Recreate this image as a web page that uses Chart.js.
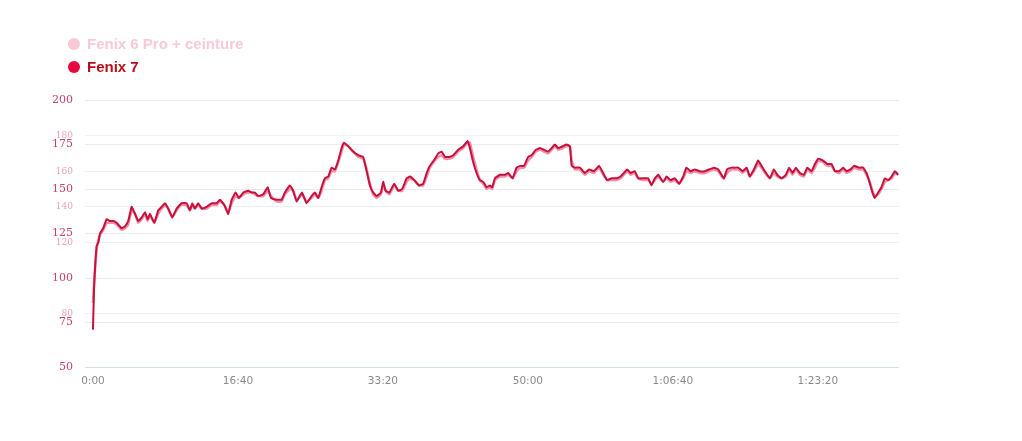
<!DOCTYPE html>
<html>
<head>
<meta charset="utf-8">
<script src="https://cdn.jsdelivr.net/npm/chart.js@4.4.1/dist/chart.umd.min.js"></script>
<style>
  body { margin: 0; background: #fff; }
  #wrap { position: relative; width: 1022px; height: 441px; }
  #legend { position: absolute; left: 68px; top: 32px; font-family: "Liberation Sans", Arial, sans-serif; font-weight: bold; font-size: 15px; }
  .item { display: flex; align-items: center; height: 23px; }
  .dot { width: 12px; height: 12px; border-radius: 50%; margin-right: 7px; }
</style>
</head>
<body>
<div id="wrap">
  <canvas id="chartHeartRate" width="1022" height="441"></canvas>
  <div id="legend"></div>
</div>
<script>
// elapsed time in seconds
let times = [0,8,25,37,48,71,94,117,140,163,
  198,221,243,267,290,312,336,359,377,393,
  423,450,474,497,519,547,577,612,646,669,
  685,703,726,750,784,819,853,876,906,933,
  957,984,1007,1037,1071,1095,1117,1140,1175,1205,
  1228,1267,1301,1324,1359,1381,1405,1442,1473,1508,
  1531,1554,1577,1600,1623,1646,1669,1692,1715,1731,
  1761,1795,1830,1864,1888,1910,1933,1957,1986,2002,
  2019,2044,2078,2106,2133,2164,2186,2216,2248,2278,
  2302,2324,2359,2382,2405,2428,2455,2485,2519,2554,
  2584,2600,2623,2646,2669,2692,2715,2738,2754,2773,
  2807,2842,2864,2895,2922,2950,2973,3002,3026,3055,
  3083,3111,3140,3164,3186,3209,3240,3267,3290,3302,
  3324,3359,3393,3423,3455,3492,3519,3547,3577,3612,
  3639,3662,3685,3708,3738,3761,3795,3830,3853,3876,
  3899,3933,3957,3984,4014,4043,4071,4094,4122,4152,
  4186,4221,4251,4283,4313,4336,4352,4374,4405,4428,
  4451,4481,4509,4531,4559,4589,4612,4635,4669,4697,
  4720,4750,4780,4802,4826,4849,4876,4904,4927,4957,
  4980,5003,5037,5065,5095,5118,5147,5175,5198,5226,
  5249,5285,5313,5336,5359,5377,5393,5416,5439,5462,
  5485,5509,5532,5554]

let fenix7 = [71,95,118,120,125,128,133,132,132,131,
  128,129,132,140,136,132,134,137,133,136,
  131,138,140,142,139,134,139,142,142,138,
  142,139,142,139,140,142,142,144,141,136,
  144,148,145,148,149,148,148,146,147,151,
  145,144,144,148,152,149,143,148,142,146,
  148,145,151,156,157,162,161,166,173,176,
  174,171,169,168,160,152,148,146,148,154,
  149,148,153,149,150,156,157,155,152,153,
  159,163,167,170,171,168,168,169,172,174,
  177,173,165,159,155,154,151,152,151,156,
  158,158,159,156,162,163,163,168,169,172,
  173,172,171,173,175,173,174,175,174,163,
  162,162,159,161,160,163,159,155,156,156,
  157,159,161,159,160,156,156,156,152,156,
  158,154,157,155,156,153,157,162,160,161,
  160,160,161,162,161,158,156,161,162,162,
  162,160,162,157,161,166,163,160,156,161,
  158,156,158,162,159,162,159,158,162,160,
  164,167,166,164,164,160,160,162,160,161,
  163,162,162,159,153,148,145,148,151,156,
  155,157,160,158]

let fenix6 = [86,98,116,121,124,127,131,131,131,130,
  127,128,130,138,136,131,133,136,132,135,
  131,136,139,141,139,134,138,141,141,138,
  141,139,141,139,139,141,141,143,141,137,
  142,146,145,147,148,148,147,146,146,149,
  146,143,143,147,150,149,144,147,143,145,
  147,145,149,155,156,160,160,165,171,175,
  174,171,168,167,161,153,147,145,147,152,
  149,147,152,149,149,154,156,155,152,152,
  157,162,166,168,169,167,167,168,171,173,
  176,176,168,161,155,153,150,151,150,155,
  157,157,158,156,160,162,162,166,168,171,
  172,171,170,172,174,172,173,174,174,166,
  161,161,158,160,159,162,158,155,155,155,
  156,158,160,158,159,156,155,155,153,155,
  157,154,156,154,155,153,156,160,159,160,
  159,159,160,161,160,157,156,159,161,161,
  161,159,161,157,160,164,162,159,156,159,
  157,156,157,161,158,161,158,157,161,159,
  162,166,165,163,163,160,159,161,159,160,
  162,161,161,158,154,149,146,147,150,154,
  155,156,159,158]

let xTicks = [0, 1000, 2000, 3000, 4000, 5000]
// main heart rate ticks, and the lighter second set drawn on the same axis
let yTicks = [50, 75, 100, 125, 150, 175, 200]
let y2Ticks = [80, 120, 140, 160, 180]

let seriesNames = ['Fenix 6 Pro + ceinture', 'Fenix 7']

function toPoints(values) {
  let pts = []
  for (let i = 0; i < values.length; i++) {
    pts.push({x: times[i], y: values[i]})
  }
  return pts
}

function formatTime(sec) {
  let h = Math.floor(sec / 3600)
  let m = Math.floor((sec % 3600) / 60)
  let s = sec % 60
  let ss = (s < 10 ? '0' : '') + s
  if (h > 0) return h + ':' + (m < 10 ? '0' : '') + m + ':' + ss
  return m + ':' + ss
}

function isSecond(c) {
  return c.tick && y2Ticks.indexOf(c.tick.value) > -1
}

// legend, stacked top left
let legendItems = [
  {name: seriesNames[0], dot: '#f8c8d4', text: '#f8cad5'},
  {name: seriesNames[1], dot: '#e8063c', text: '#b80f1a'}
]
let legend = document.getElementById('legend')
for (let item of legendItems) {
  let row = document.createElement('div')
  row.className = 'item'
  row.innerHTML = '<span class="dot" style="background:' + item.dot + '"></span><span style="color:' + item.text + '">' + item.name + '</span>'
  legend.appendChild(row)
}

var ctx = document.getElementById('chartHeartRate').getContext('2d');
var myChart = new Chart(ctx, {
  type: 'line',
  data: {
    datasets: [{
      label: seriesNames[1],
      data: toPoints(fenix7),
      borderColor: '#c8103c',
      borderWidth: 2,
      pointRadius: 0,
      tension: 0.1
    }, {
      label: seriesNames[0],
      data: toPoints(fenix6),
      borderColor: '#ee90a8',
      borderWidth: 2.5,
      pointRadius: 0,
      tension: 0.1
    }]
  },
  options: {
    responsive: false,
    animation: false,
    layout: { padding: { left: 0, right: 123, top: 100, bottom: 0 } },
    plugins: {
      legend: { display: false },
      tooltip: { enabled: false }
    },
    scales: {
      x: {
        type: 'linear',
        min: -55,
        max: 5560,
        grid: { display: false, drawTicks: false },
        border: { display: false },
        afterBuildTicks: function(scale) {
          scale.ticks = xTicks.map(function(v) { return {value: v} })
        },
        afterFit: function(scale) { scale.height = 74 },
        ticks: {
          padding: 8,
          maxRotation: 0,
          color: '#8a8a8a',
          font: { family: '"DejaVu Sans", sans-serif', size: 10.5 },
          callback: function(v) { return formatTime(v) }
        }
      },
      y: {
        min: 50,
        max: 200,
        afterBuildTicks: function(scale) {
          let all = yTicks.concat(y2Ticks).sort(function(a, b) { return a - b })
          scale.ticks = all.map(function(v) { return {value: v} })
        },
        afterFit: function(scale) { scale.width = 85 },
        grid: {
          drawTicks: false,
          color: function(c) {
            if (c.tick && c.tick.value === 50) return '#d6dee8'
            return isSecond(c) ? '#f0f0f0' : '#ebebeb'
          }
        },
        border: { display: false },
        ticks: {
          autoSkip: false,
          padding: 12,
          color: function(c) { return isSecond(c) ? '#e8a2b5' : '#c8406e' },
          font: function(c) {
            return { family: '"DejaVu Serif", serif', size: isSecond(c) ? 9 : 11 }
          }
        }
      }
    }
  }
});
</script>
</body>
</html>
